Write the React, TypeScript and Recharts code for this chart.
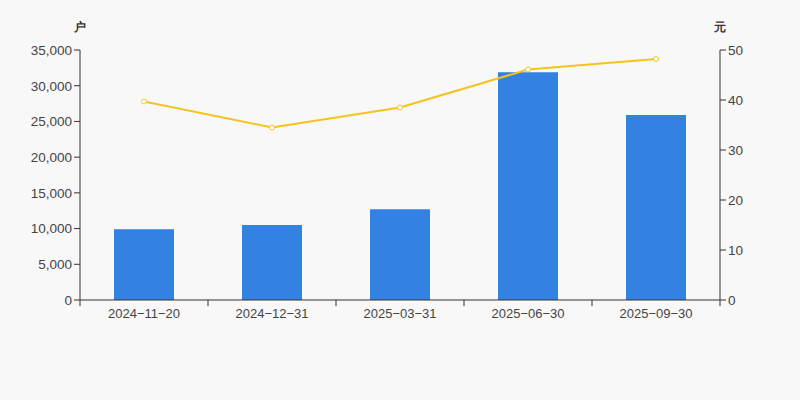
import { ComposedChart, Bar, Line, XAxis, YAxis } from 'recharts';

const dates = ['2024-11-20', '2024-12-31', '2025-03-31', '2025-06-30', '2025-09-30'];
const holders = [9900, 10500, 12700, 31900, 25900];
const prices = [39.7, 34.5, 38.5, 46.1, 48.2];
const leftTicks = [0, 5000, 10000, 15000, 20000, 25000, 30000, 35000];
const rightTicks = [0, 10, 20, 30, 40, 50];

const data = dates.map((d, i) => ({ date: d.replace(/-/g, '\u2212'), holders: holders[i], price: prices[i] }));

const axisColor = '#333';
const textColor = '#444';
const font = '"Liberation Sans", Arial, sans-serif';

function DateTick(props: any) {
  const { x, y, payload, index } = props;
  const half = payload.offset || 64;
  const axisY = y - 8;
  return (
    <g>
      <line x1={x - half} y1={axisY} x2={x - half} y2={axisY + 6} stroke={axisColor} />
      {index === dates.length - 1 && (
        <line x1={x + half} y1={axisY} x2={x + half} y2={axisY + 6} stroke={axisColor} />
      )}
      <text x={x} y={y} dy="0.75em" textAnchor="middle" fill={textColor} fontSize={13} fontFamily={font}>
        {payload.value}
      </text>
    </g>
  );
}

export default function App() {
  return (
    <div style={{ position: 'relative', width: 800, height: 400, background: '#f8f8f8', fontFamily: font }}>
      <style>{'body{margin:0;background:#f8f8f8}'}</style>
      <span style={{ position: 'absolute', left: 74, top: 19, fontSize: 12, fontWeight: 'bold', color: '#333' }}>户</span>
      <span style={{ position: 'absolute', left: 714, top: 19, fontSize: 12, fontWeight: 'bold', color: '#333' }}>元</span>
      <ComposedChart
        width={800}
        height={400}
        data={data}
        margin={{ top: 50, right: 0, left: 0, bottom: 70 }}
      >
        <XAxis
          dataKey="date"
          height={30}
          interval={0}
          tickLine={false}
          tickSize={6}
          tickMargin={2}
          axisLine={{ stroke: axisColor }}
          tick={<DateTick />}
        />
        <YAxis
          yAxisId="left"
          width={80}
          domain={[0, 35000]}
          ticks={leftTicks}
          tickFormatter={(v: number) => v.toLocaleString('en-US')}
          axisLine={{ stroke: axisColor }}
          tickLine={{ stroke: axisColor }}
          tick={{ fill: textColor, fontSize: 13.5, fontFamily: font }}
        />
        <YAxis
          yAxisId="right"
          orientation="right"
          width={80}
          domain={[0, 50]}
          ticks={rightTicks}
          axisLine={{ stroke: axisColor }}
          tickLine={{ stroke: axisColor }}
          tick={{ fill: textColor, fontSize: 13.5, fontFamily: font }}
        />
        <Bar yAxisId="left" dataKey="holders" fill="#3381e3" barSize={60} isAnimationActive={false} />
        <Line
          yAxisId="right"
          dataKey="price"
          stroke="#f6c31c"
          strokeWidth={2}
          dot={{ r: 2.5, fill: '#fff', stroke: '#f6c31c', strokeWidth: 1 }}
          activeDot={false}
          isAnimationActive={false}
        />
      </ComposedChart>
    </div>
  );
}
